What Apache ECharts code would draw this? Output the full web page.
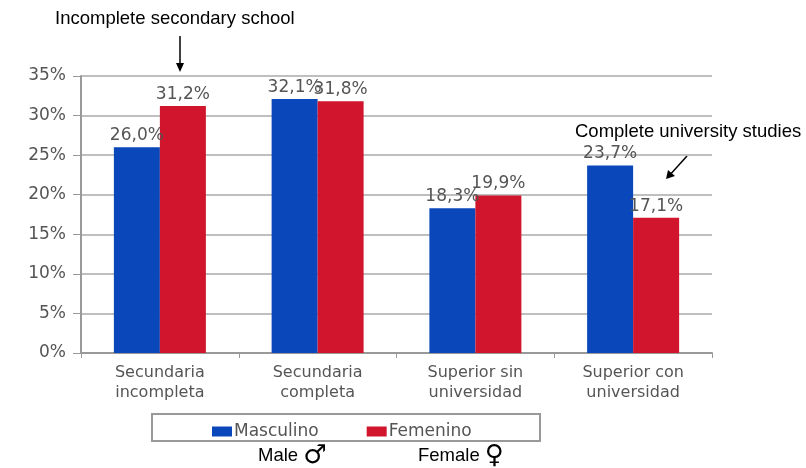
<!DOCTYPE html>
<html><head><meta charset="utf-8">
<script src="https://cdn.jsdelivr.net/npm/echarts@6/dist/echarts.min.js"></script>
<style>html,body{margin:0;padding:0;background:#fff}#c{width:806px;height:468px}</style>
</head><body><div id="c"></div>
<script>
const categories = ['Secundaria\nincompleta', 'Secundaria\ncompleta', 'Superior sin\nuniversidad', 'Superior con\nuniversidad'];
const masculino = [26.0, 32.1, 18.3, 23.7];
const femenino = [31.2, 31.8, 19.9, 17.1];
const yTicks = [0, 5, 10, 15, 20, 25, 30, 35];

const chart = echarts.init(document.getElementById('c'));
const font = 'Liberation Sans, Arial, sans-serif';
const wide = 'DejaVu Sans, Verdana, sans-serif';
const lbl = {
  show: true, position: 'top', distance: 3, color: '#555', fontSize: 17, fontFamily: wide,
  formatter: p => p.value.toFixed(1).replace('.', ',') + '%'
};
chart.setOption({
  animation: false,
  grid: { left: 81, right: 94, top: 76, bottom: 115 },
  xAxis: {
    type: 'category', data: categories,
    axisLine: { lineStyle: { color: '#999', width: 2 } },
    axisTick: { show: true, length: 5, lineStyle: { color: '#999' } },
    axisLabel: { color: '#555', fontSize: 16, fontFamily: wide, lineHeight: 20, margin: 10 }
  },
  yAxis: {
    type: 'value', min: 0, max: 35, interval: 5,
    axisLine: { show: true, lineStyle: { color: '#999', width: 2 } },
    axisTick: { show: true, length: 8, lineStyle: { color: '#999' } },
    splitLine: { lineStyle: { color: '#aaa', width: 1.5 } },
    axisLabel: { color: '#555', fontSize: 17, fontFamily: wide, margin: 15, formatter: v => yTicks.includes(v) ? v + '%' : '' }
  },
  legend: {
    left: 207, top: 418, itemGap: 48, itemWidth: 20, itemHeight: 10,
    icon: 'rect', textStyle: { color: '#555', fontSize: 17, fontFamily: wide, padding: [0, 0, 0, -3] },
    data: ['Masculino', 'Femenino']
  },
  series: [
    { name: 'Masculino', type: 'bar', data: masculino, barWidth: 46, barGap: '0%', itemStyle: { color: '#0A47BA' }, label: lbl },
    { name: 'Femenino', type: 'bar', data: femenino, barWidth: 46, itemStyle: { color: '#D1152D' }, label: lbl }
  ],
  graphic: [
    { type: 'rect', shape: { x: 152, y: 414, width: 388, height: 27 }, style: { fill: 'none', stroke: '#999', lineWidth: 2 } },
    { type: 'text', left: 55, top: 9, style: { text: 'Incomplete secondary school', fill: '#000', fontSize: 18.5, fontFamily: font } },
    { type: 'line', shape: { x1: 180, y1: 36, x2: 180, y2: 70 }, style: { stroke: '#000', lineWidth: 1.5 } },
    { type: 'polygon', shape: { points: [[176, 63], [184, 63], [180, 72]] }, style: { fill: '#000' } },
    { type: 'text', left: 575, top: 122, style: { text: 'Complete university studies', fill: '#000', fontSize: 18.5, fontFamily: font } },
    { type: 'line', shape: { x1: 687, y1: 156, x2: 668, y2: 177 }, style: { stroke: '#000', lineWidth: 1.5 } },
    { type: 'polygon', shape: { points: [[666, 179], [668, 170], [675, 176]] }, style: { fill: '#000' } },
    { type: 'text', left: 258, top: 443, style: { text: 'Male {s|♂}', fill: '#000', fontSize: 18.5, fontFamily: font, rich: { s: { fontSize: 26, fontFamily: 'DejaVu Sans', fill: '#000' } } } },
    { type: 'text', left: 418, top: 443, style: { text: 'Female {s|♀}', fill: '#000', fontSize: 18.5, fontFamily: font, rich: { s: { fontSize: 26, fontFamily: 'DejaVu Sans', fill: '#000' } } } }
  ]
});
</script></body></html>
